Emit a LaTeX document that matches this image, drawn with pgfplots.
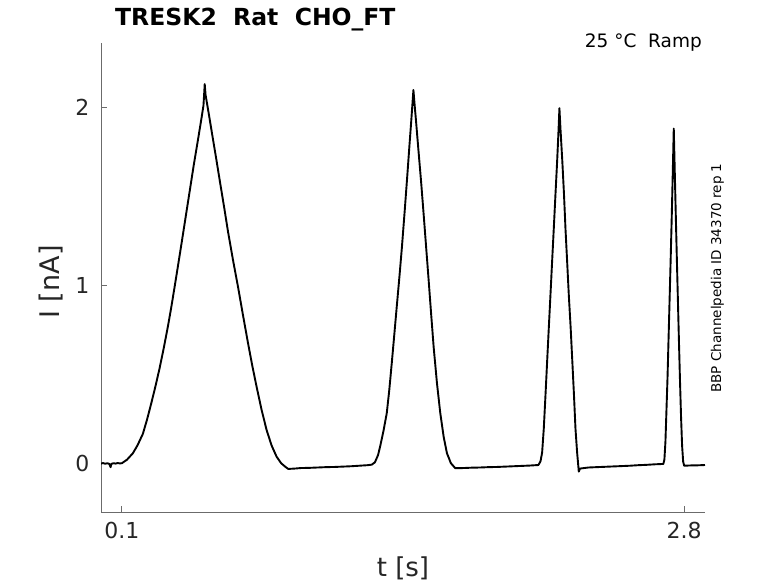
\documentclass[border=0pt]{standalone}
\usepackage{pgfplots}
\pgfplotsset{compat=1.18}
\usepackage{fontspec}
\setmainfont{DejaVu Sans}
\definecolor{axgray}{gray}{0.42}
\definecolor{txtgray}{gray}{0.15}
\begin{document}
\begin{tikzpicture}
\useasboundingbox (0,0) rectangle (778pt,583pt);
\begin{axis}[
  at={(101pt,71pt)}, anchor=south west,
  scale only axis, width=604pt, height=469pt,
  xmin=0, xmax=2.9, ymin=-0.274, ymax=2.361,
  axis x line*=bottom, axis y line*=left,
  axis line style={-, draw=axgray, line width=0.8pt},
  xtick={0.1,2.8}, ytick={0,1,2},
  tick align=inside,
  major tick length=6pt,
  tick style={draw=axgray, line width=0.8pt},
  ticklabel style={font=\fontsize{22}{26}\selectfont, text=txtgray},
  /pgf/number format/assume math mode=true,
  xticklabel style={yshift=-6.7pt},
  yticklabel style={xshift=-8pt},
]
\addplot[black, line width=1.9pt, line join=round] coordinates {
(0.000,-0.002) (0.010,0.001) (0.020,-0.003) (0.030,0.000) (0.040,-0.004)
(0.046,-0.022) (0.050,-0.004) (0.060,0.000) (0.070,-0.002) (0.080,0.001)
(0.090,-0.001) (0.100,0.000)
(0.125,0.020) (0.153,0.056) (0.175,0.100) (0.201,0.165) (0.221,0.245)
(0.241,0.335) (0.261,0.430) (0.281,0.532) (0.301,0.645) (0.321,0.767)
(0.338,0.880) (0.354,0.995) (0.370,1.112) (0.386,1.230) (0.406,1.380)
(0.426,1.530) (0.446,1.680) (0.466,1.820) (0.482,1.935) (0.492,2.010)
(0.498,2.130) (0.502,2.070) (0.510,2.015) (0.520,1.945) (0.537,1.825)
(0.554,1.705) (0.572,1.575) (0.591,1.440) (0.610,1.300) (0.634,1.140)
(0.658,0.990) (0.682,0.830) (0.706,0.674) (0.726,0.550) (0.747,0.430)
(0.771,0.300) (0.795,0.187) (0.819,0.100) (0.843,0.037) (0.865,0.000)
(0.885,-0.020) (0.899,-0.032)
(0.930,-0.030) (0.960,-0.027) (1.000,-0.026) (1.040,-0.024) (1.080,-0.022)
(1.120,-0.021) (1.160,-0.019) (1.200,-0.017) (1.240,-0.014) (1.280,-0.011)
(1.300,-0.008)
(1.315,0.005) (1.330,0.045) (1.340,0.093) (1.356,0.180) (1.372,0.281)
(1.384,0.410) (1.396,0.562) (1.408,0.720) (1.420,0.880) (1.433,1.050)
(1.445,1.217) (1.457,1.400) (1.469,1.590) (1.480,1.770) (1.490,1.930)
(1.500,2.097) (1.506,2.010) (1.512,1.930) (1.524,1.760) (1.537,1.580)
(1.549,1.400) (1.561,1.215) (1.573,1.030) (1.585,0.840) (1.597,0.655)
(1.613,0.450) (1.629,0.281) (1.645,0.150) (1.661,0.056) (1.680,0.000)
(1.701,-0.028)
(1.740,-0.027) (1.780,-0.025) (1.820,-0.024) (1.860,-0.022) (1.900,-0.021)
(1.940,-0.019) (1.980,-0.017) (2.020,-0.015) (2.060,-0.013) (2.100,-0.010)
(2.110,0.010) (2.118,0.060) (2.126,0.196) (2.134,0.380) (2.142,0.571)
(2.150,0.760) (2.158,0.946) (2.166,1.135) (2.174,1.320) (2.182,1.510)
(2.190,1.695) (2.196,1.850) (2.201,1.995) (2.206,1.880) (2.215,1.695)
(2.223,1.510) (2.230,1.320) (2.238,1.135) (2.246,0.946) (2.255,0.760)
(2.263,0.571) (2.271,0.380) (2.278,0.196) (2.286,0.060) (2.294,-0.047)
(2.300,-0.030)
(2.340,-0.024) (2.380,-0.022) (2.420,-0.020) (2.460,-0.018) (2.500,-0.016)
(2.540,-0.014) (2.580,-0.011) (2.620,-0.009) (2.660,-0.006) (2.700,-0.004)
(2.705,0.020) (2.710,0.120) (2.715,0.300) (2.720,0.480) (2.725,0.700)
(2.730,0.920) (2.735,1.140) (2.740,1.370) (2.745,1.620) (2.750,1.880)
(2.755,1.630) (2.760,1.380) (2.765,1.140) (2.770,0.910) (2.775,0.680)
(2.780,0.460) (2.785,0.260) (2.790,0.100) (2.795,0.010) (2.800,-0.014)
(2.820,-0.013) (2.840,-0.012) (2.860,-0.012) (2.880,-0.011) (2.900,-0.010)
};
\end{axis}
\node[anchor=base west, inner sep=0, font=\bfseries\fontsize{23.5}{27}\selectfont] at (115pt,557pt) {TRESK2\ \ Rat\ \ CHO\_FT};
\node[anchor=base east, inner sep=0, font=\fontsize{18.5}{22}\selectfont] at (702pt,535.3pt) {25 °C\ \ Ramp};
\node[rotate=90, anchor=base, inner sep=0, font=\fontsize{13.5}{16}\selectfont] at (721pt,305pt) {BBP Channelpedia ID 34370 rep 1};
\node[anchor=base, inner sep=0, font=\fontsize{26}{30}\selectfont, text=txtgray] at (403pt,7pt) {t [s]};
\node[rotate=90, anchor=base, inner sep=0, font=\fontsize{27}{30}\selectfont, text=txtgray] at (59.3pt,301pt) {I [nA]};
\end{tikzpicture}
\end{document}
